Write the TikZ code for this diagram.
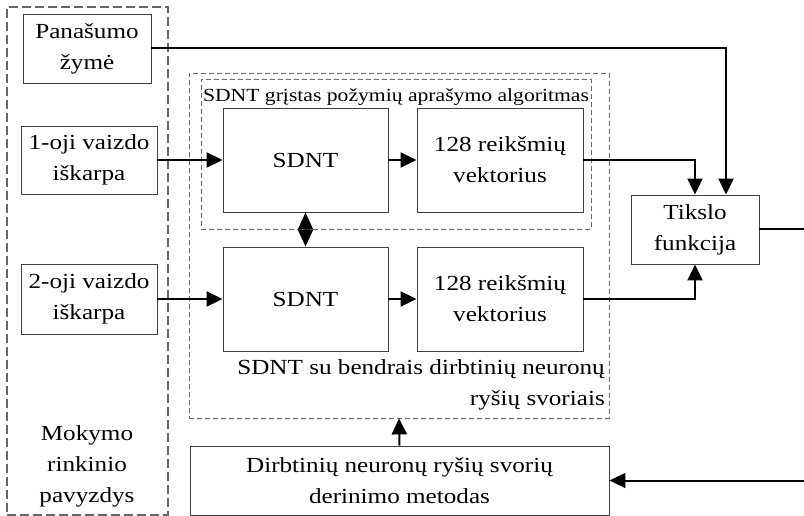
\documentclass[tikz,border=0pt]{standalone}
\usepackage{fontspec}
\setmainfont[FakeStretch=1.17]{Liberation Serif}
\usetikzlibrary{arrows.meta}
\begin{document}
\begin{tikzpicture}[x=1pt,y=-1pt,
  box/.style={draw=black!75, line width=0.9pt, align=center, inner sep=0pt,
    font=\fontsize{21.5}{31}\selectfont},
  dbox/.style={draw=black!60, dash pattern=on 5pt off 3pt, line width=0.8pt, inner sep=0pt},
  obox/.style={draw=black!60, dash pattern=on 9pt off 4pt, line width=1.1pt, inner sep=0pt},
  lbl/.style={inner sep=0pt, font=\fontsize{21.5}{31}\selectfont},
  arr/.style={line width=2pt, -{Triangle[length=16pt,width=15pt]}},
  thick2/.style={line width=2pt},
]
\useasboundingbox (0,0) rectangle (804,516);
% dashed groups
\node[obox, minimum width=161pt, minimum height=508pt] (outer) at (87.5,261) {};
\node[dbox, minimum width=420pt, minimum height=345pt] (big) at (399,245.5) {};
\node[dbox, minimum width=390pt, minimum height=150pt] (inner) at (396,154) {};
% boxes
\node[box, minimum width=128pt, minimum height=69pt] (pan) at (87,48.5) {Panašumo\\žymė};
\node[box, minimum width=136pt, minimum height=68pt] (in1) at (89,160) {1-oji vaizdo\\iškarpa};
\node[box, minimum width=136pt, minimum height=70pt] (in2) at (89,299) {2-oji vaizdo\\iškarpa};
\node[box, minimum width=165pt, minimum height=104pt] (sd1) at (305.5,160) {SDNT};
\node[box, minimum width=166pt, minimum height=104pt] (v1) at (500,160) {128 reikšmių\\vektorius};
\node[box, minimum width=165pt, minimum height=104pt] (sd2) at (305.5,299) {SDNT};
\node[box, minimum width=166pt, minimum height=104pt] (v2) at (500,299) {128 reikšmių\\vektorius};
\node[box, minimum width=128pt, minimum height=69pt] (tik) at (695,229.5) {Tikslo\\funkcija};
\node[box, minimum width=419pt, minimum height=69pt] (dir) at (399.5,480.5) {Dirbtinių neuronų ryšių svorių\\derinimo metodas};
% labels
\node[inner sep=0pt, font=\fontsize{18.5}{22}\selectfont] (ttl) at (396,97) {SDNT grįstas požymių aprašymo algoritmas};
\node[lbl, align=center] (mok) at (87,466) {Mokymo\\rinkinio\\pavyzdys};
\node[lbl, align=right, anchor=east] (bl) at (605,385) {SDNT su bendrais dirbtinių neuronų\\ryšių svoriais};
% free ends
\coordinate (outR) at (804,229.5);
\coordinate (inR) at (804,480.5);
% connectors
\draw[arr] (in1.east) -- (sd1.west);
\draw[arr] (in2.east) -- (sd2.west);
\draw[arr] (sd1.east) -- (v1.west);
\draw[arr] (sd2.east) -- (v2.west);
\draw[arr] (v1.east) -| (tik.north);
\draw[arr] (v2.east) -| (tik.south);
\draw[arr] (pan.east) -| ([xshift=31pt]tik.north);
\draw[thick2] (tik.east) -- (outR);
\draw[arr] (inR) -- (dir.east);
\draw[arr] (dir.north) -- (big.south);
\draw[line width=2pt, {Triangle[length=17pt,width=15pt]}-{Triangle[length=17pt,width=15pt]}] (sd1.south) -- (sd2.north);
\end{tikzpicture}
\end{document}
